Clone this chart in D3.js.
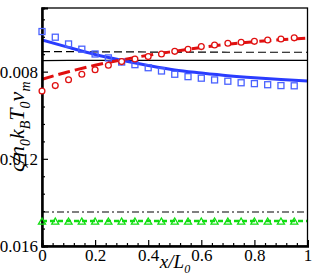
<!DOCTYPE html>
<html>
<head>
<meta charset="utf-8">
<script src="https://cdn.jsdelivr.net/npm/d3@7"></script>
<style>
  body { margin: 0; background: #fff; }
  svg { display: block; }
  text { font-family: "Liberation Serif", "Times New Roman", serif; }
</style>
</head>
<body>
<div id="chart"></div>
<script>
// x positions of symbols and of the curves
const xMark = [0, 0.05, 0.1, 0.15, 0.2, 0.25, 0.3, 0.35, 0.4, 0.45, 0.5, 0.55, 0.6, 0.65, 0.7, 0.75, 0.8, 0.85, 0.9, 0.95];
const xLine = [0, 0.1, 0.2, 0.3, 0.4, 0.5, 0.6, 0.7, 0.8, 0.9, 1];

// symbols
const blueSquares = [0.00616, 0.00642, 0.00673, 0.00697, 0.00719, 0.00737, 0.00756, 0.00768, 0.00782, 0.00797,
                     0.00812, 0.00823, 0.00830, 0.00838, 0.00844, 0.00851, 0.00855, 0.00860, 0.00864, 0.00865];
const redCircles = [0.00889, 0.00864, 0.00837, 0.00812, 0.00791, 0.00771, 0.00754, 0.00742, 0.00731, 0.00719,
                    0.00707, 0.00697, 0.00685, 0.00678, 0.00670, 0.00665, 0.00661, 0.00655, 0.00650, 0.00645];
const greenTriangles = [0.01488, 0.01488, 0.01488, 0.01488, 0.01488, 0.01488, 0.01488, 0.01488, 0.01488, 0.01488,
                        0.01488, 0.01488, 0.01488, 0.01488, 0.01488, 0.01488, 0.01488, 0.01488, 0.01488, 0.01488];

// curves
const blueSolid = [0.006545, 0.006889, 0.007211, 0.007477, 0.007715, 0.007922, 0.008060, 0.008184, 0.008280, 0.008358, 0.008427];
const redDashed = [0.008349, 0.008005, 0.007706, 0.007463, 0.007247, 0.007064, 0.006889, 0.006743, 0.006628, 0.006536, 0.006467];
const blackDashed = [0.00708, 0.00708, 0.00709, 0.00709, 0.00710, 0.00710, 0.00710, 0.00711, 0.00711, 0.00711, 0.00711];
const blackSolid = [0.00749, 0.00748, 0.00748, 0.00748, 0.00748, 0.00748, 0.00748, 0.00748, 0.00748, 0.00748, 0.00748];
const blackDashDot = [0.01444, 0.01444, 0.01444, 0.01444, 0.01444, 0.01444, 0.01444, 0.01444, 0.01444, 0.01444, 0.01444];
const greenDashed = [0.01485, 0.01485, 0.01485, 0.01485, 0.01485, 0.01485, 0.01485, 0.01485, 0.01485, 0.01485, 0.01485];

// ticks
const xMajor = [0, 0.2, 0.4, 0.6, 0.8, 1];
const xMinor = [0.04, 0.08, 0.12, 0.16, 0.24, 0.28, 0.32, 0.36, 0.44, 0.48, 0.52, 0.56, 0.64, 0.68, 0.72, 0.76, 0.84, 0.88, 0.92, 0.96];
const yMajor = [0.008, 0.012, 0.016];
const yMinor = [0.0056, 0.0064, 0.0072, 0.0088, 0.0096, 0.0104, 0.0112, 0.0128, 0.0136, 0.0144, 0.0152];

const W = 315, H = 280;
const pLeft = 42, pRight = 307.5, pTop = 8, pBottom = 246;

const svg = d3.select('#chart').append('svg')
    .attr('width', W)
    .attr('height', H);

const x = d3.scaleLinear().domain([0, 1]).range([pLeft, pRight]);
const y = d3.scaleLinear().domain([0.00508, 0.016]).range([pTop, pBottom]);

svg.append('clipPath').attr('id', 'clip')
  .append('rect')
    .attr('x', pLeft).attr('y', pTop)
    .attr('width', pRight - pLeft).attr('height', pBottom - pTop);

const plot = svg.append('g').attr('clip-path', 'url(#clip)');
const marks = svg.append('g');

const line = d3.line()
    .x((d, i) => x(xLine[i]))
    .y(d => y(d))
    .curve(d3.curveMonotoneX);

function drawLine(data, color, width, dash) {
    plot.append('path')
        .datum(data)
        .attr('d', line)
        .attr('fill', 'none')
        .attr('stroke', color)
        .attr('stroke-width', width)
        .attr('stroke-dasharray', dash);
}

drawLine(blackSolid, '#000', 1.2, null);
drawLine(blackDashed, '#000', 1.2, '8,4');
drawLine(blackDashDot, '#000', 1.1, '7,3,2,3');
drawLine(greenDashed, '#11dd11', 2.4, '5,3');
drawLine(blueSolid, '#2a3cff', 3, null);
drawLine(redDashed, '#e01010', 3, '12,5');

// frame
svg.append('rect')
    .attr('x', pLeft).attr('y', pTop)
    .attr('width', pRight - pLeft).attr('height', pBottom - pTop)
    .attr('fill', 'none')
    .attr('stroke', '#000')
    .attr('stroke-width', 1.3);

// axes, ticks pointing inward
svg.append('g')
    .attr('transform', `translate(${pLeft},0)`)
    .call(d3.axisLeft(y).tickValues(yMajor).tickSize(-6).tickPadding(4).tickFormat(d3.format('.3f')));
svg.append('g')
    .attr('transform', `translate(${pLeft},0)`)
    .call(d3.axisLeft(y).tickValues(yMinor).tickSize(-3).tickFormat(''));

svg.append('g')
    .attr('transform', `translate(0,${pBottom})`)
    .call(d3.axisBottom(x).tickValues(xMajor).tickSize(-6).tickPadding(3).tickFormat(d3.format('')));
svg.append('g')
    .attr('transform', `translate(0,${pBottom})`)
    .call(d3.axisBottom(x).tickValues(xMinor).tickSize(-3).tickFormat(''));

svg.selectAll('.domain').attr('stroke', '#000').attr('stroke-width', 2);
svg.selectAll('.tick line').attr('stroke', '#000').attr('stroke-width', 1.2);
svg.selectAll('.tick text')
    .attr('fill', '#000')
    .style('font-family', '"Liberation Serif", serif')
    .style('font-size', '17px');

// symbols drawn over the frame, not clipped
marks.raise();
marks.selectAll('rect.sq')
    .data(blueSquares)
    .join('rect')
    .attr('class', 'sq')
    .attr('x', (d, i) => x(xMark[i]) - 3)
    .attr('y', d => y(d) - 3)
    .attr('width', 6)
    .attr('height', 6)
    .attr('fill', 'none')
    .attr('stroke', '#4a62ff')
    .attr('stroke-width', 1.3);

const tri = d3.symbol().type(d3.symbolTriangle).size(22);
marks.selectAll('path.tri')
    .data(greenTriangles)
    .join('path')
    .attr('class', 'tri')
    .attr('d', tri)
    .attr('transform', (d, i) => `translate(${x(xMark[i])},${y(d) + 0.5})`)
    .attr('fill', 'none')
    .attr('stroke', '#11dd11')
    .attr('stroke-width', 1.3);

marks.selectAll('circle.ci')
    .data(redCircles)
    .join('circle')
    .attr('class', 'ci')
    .attr('cx', (d, i) => x(xMark[i]))
    .attr('cy', d => y(d))
    .attr('r', 2.9)
    .attr('fill', '#fff')
    .attr('stroke', '#e01010')
    .attr('stroke-width', 1.3);

// axis titles
const xTitle = svg.append('text')
    .attr('x', 175)
    .attr('y', 268)
    .attr('text-anchor', 'middle')
    .style('font-size', '19px')
    .style('font-style', 'italic');
xTitle.append('tspan').text('x/L');
xTitle.append('tspan').attr('dy', 5).style('font-size', '12px').text('0');

const yTitle = svg.append('text')
    .attr('transform', 'translate(24,172) rotate(-90)')
    .style('font-size', '22px')
    .style('font-style', 'italic');
yTitle.append('tspan').text('ς/n');
yTitle.append('tspan').attr('dy', 6).style('font-size', '14px').text('0');
yTitle.append('tspan').attr('dy', -6).text('k');
yTitle.append('tspan').attr('dy', 6).style('font-size', '14px').text('B');
yTitle.append('tspan').attr('dy', -6).text('T');
yTitle.append('tspan').attr('dy', 6).style('font-size', '14px').text('0');
yTitle.append('tspan').attr('dy', -6).text('v');
yTitle.append('tspan').attr('dy', 6).style('font-size', '14px').text('m');
</script>
</body>
</html>
